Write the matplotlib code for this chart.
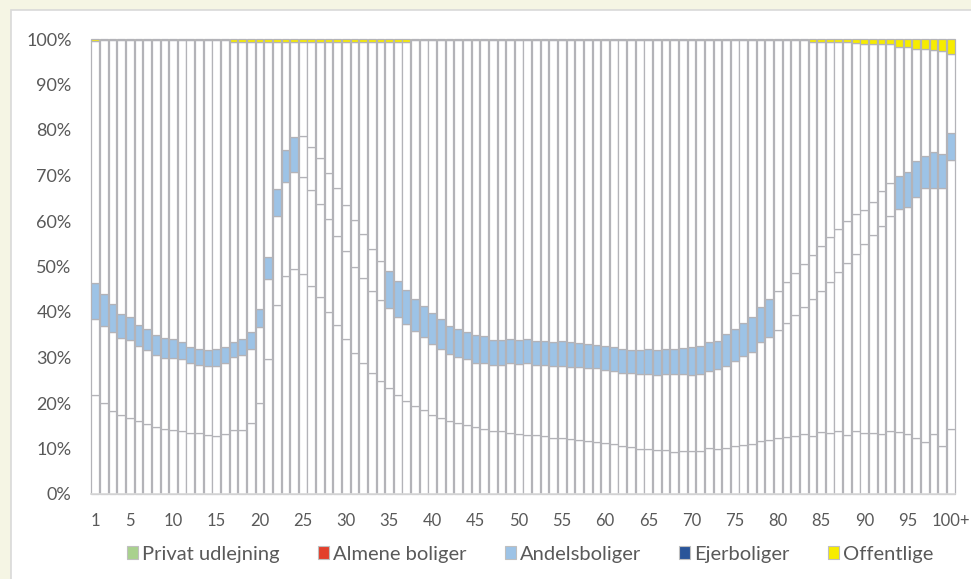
import numpy as np
import matplotlib.pyplot as plt
from matplotlib.patches import Patch, Rectangle

plt.rcParams['font.family'] = ['Lato', 'DejaVu Sans']

# age categories 1 .. 100+
ages = [str(a) for a in range(1, 100)] + ['100+']
tick_ages = ['1', '5', '10', '15', '20', '25', '30', '35', '40', '45', '50',
             '55', '60', '65', '70', '75', '80', '85', '90', '95', '100+']

# share of persons (%) by housing type
privat = [21.7, 19.9, 18.3, 17.3, 16.6, 16.0, 15.4, 14.7, 14.3, 14.1,
          13.8, 13.5, 13.3, 12.9, 12.8, 13.2, 14.0, 14.0, 15.6, 19.9,
          29.6, 41.5, 47.9, 49.5, 48.3, 45.8, 43.3, 40.1, 37.1, 34.1,
          30.9, 28.9, 26.7, 24.8, 23.4, 21.8, 20.5, 19.4, 18.4, 17.4,
          16.8, 16.0, 15.7, 15.2, 14.7, 14.2, 13.9, 13.8, 13.5, 13.2,
          13.0, 13.0, 12.8, 12.4, 12.2, 12.0, 11.8, 11.6, 11.4, 11.1,
          10.9, 10.6, 10.3, 10.0, 9.8, 9.7, 9.6, 9.3, 9.5, 9.5,
          9.4, 10.1, 10.0, 10.2, 10.5, 10.8, 10.9, 11.6, 11.9, 12.3,
          12.6, 12.7, 13.2, 12.8, 13.6, 13.3, 13.9, 13.0, 13.9, 13.3,
          13.3, 13.2, 13.9, 13.6, 13.2, 12.4, 11.5, 13.2, 10.5, 14.3]

almene = [16.7, 17.0, 17.2, 16.9, 17.2, 16.6, 16.2, 15.8, 15.7, 15.9,
          15.8, 15.4, 15.1, 15.2, 15.3, 15.5, 16.0, 16.5, 16.3, 16.7,
          17.6, 19.7, 20.7, 21.2, 21.4, 21.0, 20.4, 20.3, 19.7, 19.2,
          19.1, 18.6, 17.9, 17.8, 17.5, 17.1, 16.8, 16.5, 16.2, 15.6,
          15.1, 14.9, 14.5, 14.4, 14.2, 14.7, 14.4, 14.5, 15.2, 15.4,
          15.7, 15.4, 15.6, 15.7, 15.9, 16.0, 16.1, 16.2, 16.2, 16.2,
          16.1, 16.1, 16.2, 16.3, 16.6, 16.5, 16.7, 17.1, 16.8, 16.7,
          16.9, 16.9, 17.4, 17.9, 18.8, 19.5, 20.4, 21.7, 22.7, 23.7,
          24.9, 26.6, 27.8, 30.1, 31.0, 33.4, 34.8, 37.7, 38.9, 41.7,
          43.7, 45.8, 47.1, 49.0, 49.9, 52.9, 55.7, 54.1, 56.7, 59.1]

andel = [7.9, 7.1, 6.2, 5.3, 5.0, 4.5, 4.6, 4.4, 4.2, 4.0,
         3.9, 3.5, 3.4, 3.5, 3.7, 3.5, 3.3, 3.5, 3.6, 4.0,
         4.8, 5.8, 7.0, 7.7, 9.0, 9.4, 10.1, 10.1, 10.4, 10.3,
         10.2, 9.6, 9.2, 8.6, 8.2, 8.0, 7.5, 7.1, 6.7, 6.7,
         6.5, 6.1, 6.0, 5.9, 6.0, 5.8, 5.5, 5.5, 5.4, 5.2,
         5.4, 5.3, 5.2, 5.3, 5.5, 5.3, 5.3, 5.2, 5.2, 5.2,
         5.2, 5.2, 5.2, 5.3, 5.4, 5.5, 5.5, 5.5, 5.7, 6.0,
         6.2, 6.3, 6.3, 7.1, 7.0, 7.2, 7.5, 7.7, 8.3, 8.6,
         9.0, 9.2, 9.5, 9.6, 9.9, 9.8, 9.6, 9.3, 8.7, 7.5,
         7.1, 7.6, 7.4, 7.3, 7.7, 7.9, 7.1, 7.9, 7.5, 5.9]

ejer = [53.3, 55.8, 58.1, 60.3, 61.0, 62.7, 63.6, 64.9, 65.6, 65.8,
        66.3, 67.4, 68.0, 68.2, 68.0, 67.6, 66.1, 65.4, 63.9, 58.8,
        47.4, 32.4, 23.8, 21.0, 20.7, 23.2, 25.6, 28.9, 32.2, 35.8,
        39.2, 42.3, 45.6, 48.2, 50.3, 52.5, 54.6, 56.8, 58.5, 60.0,
        61.4, 62.8, 63.5, 64.2, 64.8, 65.0, 66.0, 66.0, 65.6, 66.0,
        65.6, 66.0, 66.1, 66.3, 66.1, 66.4, 66.5, 66.7, 66.9, 67.2,
        67.5, 67.8, 68.0, 68.1, 67.9, 68.0, 67.9, 67.8, 67.7, 67.5,
        67.2, 66.4, 66.0, 64.5, 63.4, 62.2, 60.9, 58.7, 56.8, 55.1,
        53.2, 51.2, 49.2, 46.9, 44.9, 42.9, 41.1, 39.4, 37.7, 36.5,
        34.9, 32.4, 30.6, 28.4, 27.5, 24.7, 23.4, 22.4, 22.7, 17.5]

offentlige = [0.4, 0.2, 0.2, 0.2, 0.2, 0.2, 0.2, 0.2, 0.2, 0.2,
              0.2, 0.2, 0.2, 0.2, 0.2, 0.2, 0.6, 0.6, 0.6, 0.6,
              0.6, 0.6, 0.6, 0.6, 0.6, 0.6, 0.6, 0.6, 0.6, 0.6,
              0.6, 0.6, 0.6, 0.6, 0.6, 0.6, 0.6, 0.3, 0.3, 0.3,
              0.3, 0.3, 0.3, 0.3, 0.3, 0.3, 0.3, 0.3, 0.3, 0.3,
              0.3, 0.3, 0.3, 0.3, 0.3, 0.3, 0.3, 0.3, 0.3, 0.3,
              0.3, 0.3, 0.3, 0.3, 0.3, 0.3, 0.3, 0.3, 0.3, 0.3,
              0.3, 0.3, 0.3, 0.3, 0.3, 0.3, 0.3, 0.3, 0.3, 0.3,
              0.3, 0.3, 0.3, 0.6, 0.6, 0.6, 0.6, 0.6, 0.8, 1.0,
              1.0, 1.0, 1.0, 1.7, 1.7, 2.1, 2.3, 2.4, 2.6, 3.2]

labels = ['Privat udlejning', 'Almene boliger', 'Andelsboliger', 'Ejerboliger', 'Offentlige']
legend_colors = ['#A9D18E', '#E2402C', '#9DC3E6', '#2A5599', '#F7EC00']

# only some age groups have the andel segment filled in the original
blue_groups = [(1, 24), (35, 79), (94, 100)]

GREY = '#595959'
EDGE = '#B3B3B8'

data = np.array([privat, almene, andel, ejer, offentlige], dtype=float)
shares = data / data.sum(axis=0) * 100  # 100% stacked

n = len(ages)
andel_fill = ['white'] * n
for lo, hi in blue_groups:
    for a in range(lo, hi + 1):
        andel_fill[a - 1] = '#9DC3E6'
fills = [['white'] * n, ['white'] * n, andel_fill, ['white'] * n, ['#F7EC00'] * n]

fig = plt.figure(figsize=(9.71, 5.79), dpi=100, facecolor='#F5F5E4')
fig.patches.append(Rectangle((11 / 971, -0.1), 1.1, 1.1 - 10 / 579,
                             transform=fig.transFigure, facecolor='white',
                             edgecolor='#D9D9D9', lw=1.2, zorder=-5))
ax = fig.add_axes([91 / 971, 85 / 579, 864 / 971, 455 / 579])
ax.set_zorder(2)
ax.set_facecolor('none')

x = np.arange(n)
bottom = np.zeros(n)
for vals, fc in zip(shares, fills):
    ax.bar(x, vals, bottom=bottom, width=0.9, color=fc, edgecolor=EDGE,
           linewidth=0.9, clip_on=False)
    bottom += vals

ax.set_xlim(-0.5, n - 0.5)
ax.set_ylim(0, 100)
ax.set_yticks(range(0, 101, 10))
ax.set_yticklabels([f'{v}%' for v in range(0, 101, 10)])
ax.set_xticks([ages.index(t) for t in tick_ages])
ax.set_xticklabels(tick_ages)
ax.tick_params(axis='y', length=0, colors=GREY, labelsize=13, pad=14)
ax.tick_params(axis='x', length=0, colors=GREY, labelsize=12, pad=14)
for s in ['top', 'right', 'left']:
    ax.spines[s].set_visible(False)
ax.spines['bottom'].set_color('#D9D9D9')
ax.spines['bottom'].set_linewidth(1.2)

handles = [Patch(facecolor=c, edgecolor='#BFBFBF', lw=0.8) for c in legend_colors]
fig.legend(handles, labels, loc='center', bbox_to_anchor=(0.546, 0.043), ncol=5,
           frameon=False, fontsize=14.5, handlelength=0.55, handleheight=0.55,
           handletextpad=0.2, columnspacing=1.9, labelcolor=GREY)

fig.savefig('out.png', dpi=100, facecolor=fig.get_facecolor())
